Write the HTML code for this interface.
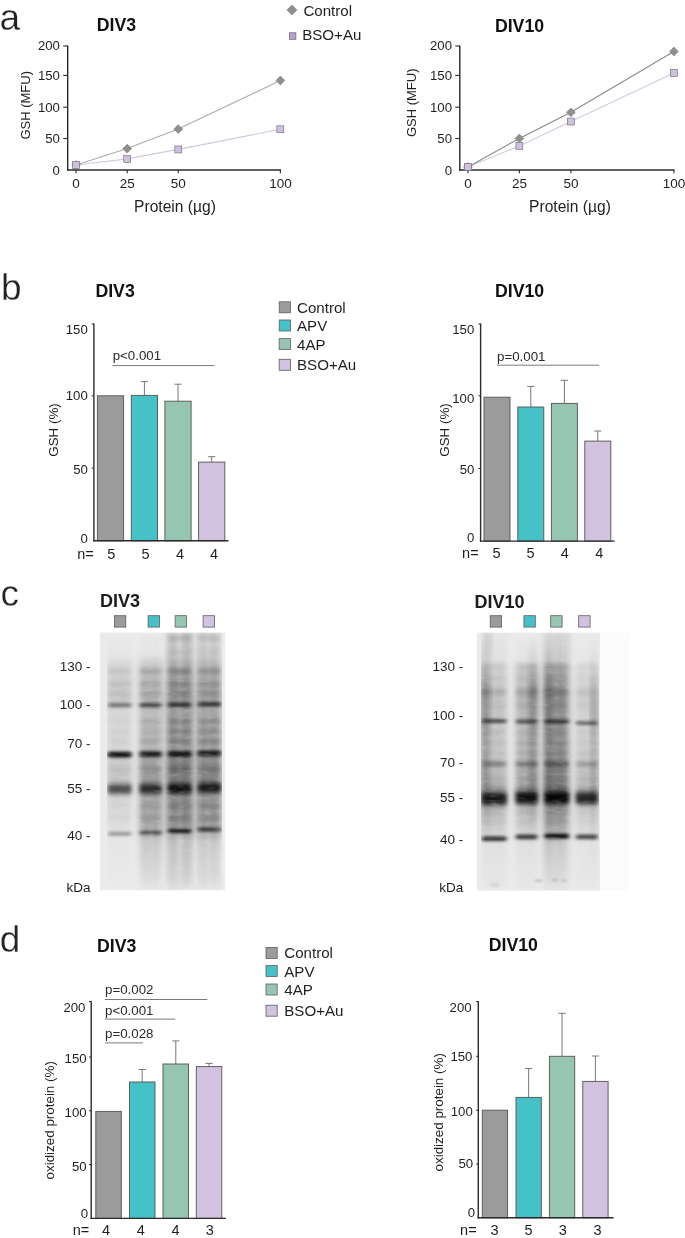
<!DOCTYPE html>
<html lang="en"><head><meta charset="utf-8"><title>Figure</title>
<style>
html,body{margin:0;padding:0;background:#fff;}
body{width:685px;height:1238px;overflow:hidden;}
svg{display:block;}
text{font-family:"Liberation Sans",sans-serif;}
svg{will-change:transform;}
</style></head><body>
<svg width="685" height="1238" viewBox="0 0 685 1238" font-family='"Liberation Sans", sans-serif'>
<defs>
<filter id="blurH" x="-40%" y="-5%" width="180%" height="110%"><feGaussianBlur stdDeviation="3.0 1.5"/></filter>
<filter id="bs" x="-30%" y="-300%" width="160%" height="700%"><feGaussianBlur stdDeviation="1.8 1.1"/></filter>
<filter id="bm" x="-30%" y="-300%" width="160%" height="700%"><feGaussianBlur stdDeviation="2.2 2.0"/></filter>
<filter id="bk" x="-30%" y="-300%" width="160%" height="700%"><feGaussianBlur stdDeviation="2.0 1.5"/></filter>
<filter id="bl" x="-30%" y="-300%" width="160%" height="700%"><feGaussianBlur stdDeviation="2.2 2.6"/></filter>
<filter id="noise" x="0" y="0" width="100%" height="100%" filterUnits="objectBoundingBox">
<feTurbulence type="fractalNoise" baseFrequency="0.09 0.30" numOctaves="2" seed="11" result="n"/>
<feColorMatrix in="n" type="matrix" values="0 0 0 0 0  0 0 0 0 0  0 0 0 0 0  0 0 0 0.55 0.74" result="na"/>
<feComposite in="SourceGraphic" in2="na" operator="in"/>
</filter>
<clipPath id="clip1"><rect x="99.9" y="632.5" width="125.1" height="257.7"/></clipPath>
<clipPath id="clip2"><rect x="476.9" y="632.6" width="123.2" height="258"/></clipPath>
</defs>
<rect width="685" height="1238" fill="#fff"/>
<text x="-0.5" y="30.2" font-size="37" fill="#222" stroke="#fff" stroke-width="0.3" paint-order="fill stroke" style="paint-order:fill stroke">a</text>
<text x="1.1" y="300.2" font-size="37" fill="#222" stroke="#fff" stroke-width="0.3" paint-order="fill stroke" style="paint-order:fill stroke">b</text>
<text x="0.4" y="606.1" font-size="37" fill="#222" stroke="#fff" stroke-width="0.3" paint-order="fill stroke" style="paint-order:fill stroke">c</text>
<text x="-0.3" y="952.4" font-size="37" fill="#222" stroke="#fff" stroke-width="0.3" paint-order="fill stroke" style="paint-order:fill stroke">d</text>
<line x1="67.7" y1="45.5" x2="67.7" y2="170.7" stroke="#2b2b2b" stroke-width="1.4" />
<line x1="67.0" y1="170.0" x2="281.0" y2="170.0" stroke="#2b2b2b" stroke-width="1.4" />
<text x="59.9" y="174.9" font-size="13.2" text-anchor="end" font-weight="normal" fill="#1f1f1f" >0</text>
<line x1="63.2" y1="138.5" x2="67.7" y2="138.5" stroke="#2b2b2b" stroke-width="1.1" />
<text x="59.9" y="143.4" font-size="13.2" text-anchor="end" font-weight="normal" fill="#1f1f1f" >50</text>
<line x1="63.2" y1="107.2" x2="67.7" y2="107.2" stroke="#2b2b2b" stroke-width="1.1" />
<text x="59.9" y="112.1" font-size="13.2" text-anchor="end" font-weight="normal" fill="#1f1f1f" >100</text>
<line x1="63.2" y1="75.4" x2="67.7" y2="75.4" stroke="#2b2b2b" stroke-width="1.1" />
<text x="59.9" y="80.3" font-size="13.2" text-anchor="end" font-weight="normal" fill="#1f1f1f" >150</text>
<line x1="63.2" y1="46.0" x2="67.7" y2="46.0" stroke="#2b2b2b" stroke-width="1.1" />
<text x="59.9" y="50.4" font-size="13.2" text-anchor="end" font-weight="normal" fill="#1f1f1f" >200</text>
<line x1="76.1" y1="170.0" x2="76.1" y2="173.2" stroke="#2b2b2b" stroke-width="1.1" />
<text x="76.1" y="188.1" font-size="13.5" text-anchor="middle" font-weight="normal" fill="#1f1f1f" >0</text>
<line x1="127.2" y1="170.0" x2="127.2" y2="173.2" stroke="#2b2b2b" stroke-width="1.1" />
<text x="127.2" y="188.1" font-size="13.5" text-anchor="middle" font-weight="normal" fill="#1f1f1f" >25</text>
<line x1="178.2" y1="170.0" x2="178.2" y2="173.2" stroke="#2b2b2b" stroke-width="1.1" />
<text x="178.2" y="188.1" font-size="13.5" text-anchor="middle" font-weight="normal" fill="#1f1f1f" >50</text>
<line x1="280.4" y1="170.0" x2="280.4" y2="173.2" stroke="#2b2b2b" stroke-width="1.1" />
<text x="280.4" y="188.1" font-size="13.5" text-anchor="middle" font-weight="normal" fill="#1f1f1f" >100</text>
<text transform="translate(30.0,105.3) rotate(-90)" font-size="13" text-anchor="middle" fill="#1f1f1f">GSH (MFU)</text>
<text x="175.0" y="212.4" font-size="15.6" text-anchor="middle" font-weight="normal" fill="#1f1f1f" >Protein (µg)</text>
<text x="96.8" y="31.1" font-size="17.7" text-anchor="start" font-weight="bold" fill="#111" >DIV3</text>
<polyline points="76.1,165.0 127.2,158.9 178.2,149.4 280.4,129.3" fill="none" stroke="#d3c8dc" stroke-width="1.1"/>
<polyline points="76.1,165.0 127.2,148.6 178.2,129.1 280.4,80.5" fill="none" stroke="#ababab" stroke-width="1.1"/>
<polygon points="76.1,160.6 80.5,165.0 76.1,169.4 71.7,165.0" fill="#8f8f8f" stroke="#7a7a7a" stroke-width="0.6"/>
<polygon points="127.2,144.2 131.6,148.6 127.2,153.0 122.8,148.6" fill="#8f8f8f" stroke="#7a7a7a" stroke-width="0.6"/>
<polygon points="178.2,124.7 182.7,129.1 178.2,133.5 173.8,129.1" fill="#8f8f8f" stroke="#7a7a7a" stroke-width="0.6"/>
<polygon points="280.4,76.1 284.8,80.5 280.4,84.9 276.0,80.5" fill="#8f8f8f" stroke="#7a7a7a" stroke-width="0.6"/>
<rect x="72.6" y="161.6" width="6.9" height="6.9" fill="#cfc0dc" stroke="#7d7188" stroke-width="0.7"/>
<rect x="123.7" y="155.5" width="6.9" height="6.9" fill="#cfc0dc" stroke="#7d7188" stroke-width="0.7"/>
<rect x="174.8" y="146.0" width="6.9" height="6.9" fill="#cfc0dc" stroke="#7d7188" stroke-width="0.7"/>
<rect x="276.9" y="125.8" width="6.9" height="6.9" fill="#cfc0dc" stroke="#7d7188" stroke-width="0.7"/>
<line x1="459.8" y1="45.5" x2="459.8" y2="170.7" stroke="#2b2b2b" stroke-width="1.4" />
<line x1="459.1" y1="170.0" x2="674.5" y2="170.0" stroke="#2b2b2b" stroke-width="1.4" />
<text x="452.0" y="174.9" font-size="13.2" text-anchor="end" font-weight="normal" fill="#1f1f1f" >0</text>
<line x1="455.3" y1="138.5" x2="459.8" y2="138.5" stroke="#2b2b2b" stroke-width="1.1" />
<text x="452.0" y="143.4" font-size="13.2" text-anchor="end" font-weight="normal" fill="#1f1f1f" >50</text>
<line x1="455.3" y1="107.2" x2="459.8" y2="107.2" stroke="#2b2b2b" stroke-width="1.1" />
<text x="452.0" y="112.1" font-size="13.2" text-anchor="end" font-weight="normal" fill="#1f1f1f" >100</text>
<line x1="455.3" y1="75.4" x2="459.8" y2="75.4" stroke="#2b2b2b" stroke-width="1.1" />
<text x="452.0" y="80.3" font-size="13.2" text-anchor="end" font-weight="normal" fill="#1f1f1f" >150</text>
<line x1="455.3" y1="46.0" x2="459.8" y2="46.0" stroke="#2b2b2b" stroke-width="1.1" />
<text x="452.0" y="50.4" font-size="13.2" text-anchor="end" font-weight="normal" fill="#1f1f1f" >200</text>
<line x1="467.9" y1="170.0" x2="467.9" y2="173.2" stroke="#2b2b2b" stroke-width="1.1" />
<text x="467.9" y="188.1" font-size="13.5" text-anchor="middle" font-weight="normal" fill="#1f1f1f" >0</text>
<line x1="519.4" y1="170.0" x2="519.4" y2="173.2" stroke="#2b2b2b" stroke-width="1.1" />
<text x="519.4" y="188.1" font-size="13.5" text-anchor="middle" font-weight="normal" fill="#1f1f1f" >25</text>
<line x1="570.9" y1="170.0" x2="570.9" y2="173.2" stroke="#2b2b2b" stroke-width="1.1" />
<text x="570.9" y="188.1" font-size="13.5" text-anchor="middle" font-weight="normal" fill="#1f1f1f" >50</text>
<line x1="673.9" y1="170.0" x2="673.9" y2="173.2" stroke="#2b2b2b" stroke-width="1.1" />
<text x="673.9" y="188.1" font-size="13.5" text-anchor="middle" font-weight="normal" fill="#1f1f1f" >100</text>
<text transform="translate(415.8,102.8) rotate(-90)" font-size="13" text-anchor="middle" fill="#1f1f1f">GSH (MFU)</text>
<text x="570.0" y="212.4" font-size="15.6" text-anchor="middle" font-weight="normal" fill="#1f1f1f" >Protein (µg)</text>
<text x="494.9" y="32.2" font-size="17.7" text-anchor="start" font-weight="bold" fill="#111" >DIV10</text>
<polyline points="467.9,166.9 519.4,145.9 570.9,121.6 673.9,72.9" fill="none" stroke="#d3c8dc" stroke-width="1.1"/>
<polyline points="467.9,166.9 519.4,138.4 570.9,112.3 673.9,51.5" fill="none" stroke="#8a8a8a" stroke-width="1.1"/>
<polygon points="467.9,162.5 472.3,166.9 467.9,171.3 463.5,166.9" fill="#8f8f8f" stroke="#7a7a7a" stroke-width="0.6"/>
<polygon points="519.4,134.0 523.8,138.4 519.4,142.8 515.0,138.4" fill="#8f8f8f" stroke="#7a7a7a" stroke-width="0.6"/>
<polygon points="570.9,107.9 575.3,112.3 570.9,116.7 566.5,112.3" fill="#8f8f8f" stroke="#7a7a7a" stroke-width="0.6"/>
<polygon points="673.9,47.1 678.3,51.5 673.9,55.9 669.5,51.5" fill="#8f8f8f" stroke="#7a7a7a" stroke-width="0.6"/>
<rect x="464.4" y="163.4" width="6.9" height="6.9" fill="#cfc0dc" stroke="#7d7188" stroke-width="0.7"/>
<rect x="515.9" y="142.4" width="6.9" height="6.9" fill="#cfc0dc" stroke="#7d7188" stroke-width="0.7"/>
<rect x="567.4" y="118.1" width="6.9" height="6.9" fill="#cfc0dc" stroke="#7d7188" stroke-width="0.7"/>
<rect x="670.4" y="69.5" width="6.9" height="6.9" fill="#cfc0dc" stroke="#7d7188" stroke-width="0.7"/>
<polygon points="291.9,5.0 296.9,10.0 291.9,15.0 286.9,10.0" fill="#8f8f8f" stroke="#7a7a7a" stroke-width="0.6"/>
<text x="303.4" y="15.5" font-size="15.1" text-anchor="start" font-weight="normal" fill="#1f1f1f" >Control</text>
<rect x="289.4" y="32.8" width="6.5" height="6.5" fill="#bba3cd" stroke="#6d5f7a" stroke-width="0.7"/>
<text x="302.2" y="40.2" font-size="15.1" text-anchor="start" font-weight="normal" fill="#1f1f1f" >BSO+Au</text>
<rect x="97.4" y="395.8" width="26.2" height="145.0" fill="#9b9b9b" stroke="#595959" stroke-width="0.95"/>
<line x1="144.4" y1="395.4" x2="144.4" y2="381.6" stroke="#6a6a6a" stroke-width="0.9" />
<line x1="140.8" y1="381.6" x2="148.0" y2="381.6" stroke="#6a6a6a" stroke-width="0.9" />
<rect x="131.3" y="395.4" width="26.2" height="145.4" fill="#45c1c8" stroke="#595959" stroke-width="0.95"/>
<line x1="178.0" y1="401.2" x2="178.0" y2="384.2" stroke="#6a6a6a" stroke-width="0.9" />
<line x1="174.4" y1="384.2" x2="181.6" y2="384.2" stroke="#6a6a6a" stroke-width="0.9" />
<rect x="164.9" y="401.2" width="26.2" height="139.6" fill="#96c6b1" stroke="#595959" stroke-width="0.95"/>
<line x1="211.7" y1="462.1" x2="211.7" y2="456.7" stroke="#6a6a6a" stroke-width="0.9" />
<line x1="208.1" y1="456.7" x2="215.3" y2="456.7" stroke="#6a6a6a" stroke-width="0.9" />
<rect x="198.6" y="462.1" width="26.2" height="78.7" fill="#d2c2df" stroke="#595959" stroke-width="0.95"/>
<line x1="93.9" y1="323.5" x2="93.9" y2="541.5" stroke="#2b2b2b" stroke-width="1.4" />
<line x1="93.2" y1="540.8" x2="228.5" y2="540.8" stroke="#2b2b2b" stroke-width="1.4" />
<line x1="91.7" y1="324.0" x2="93.9" y2="324.0" stroke="#2b2b2b" stroke-width="1.0" />
<line x1="91.7" y1="395.8" x2="93.9" y2="395.8" stroke="#2b2b2b" stroke-width="1.0" />
<line x1="91.7" y1="468.2" x2="93.9" y2="468.2" stroke="#2b2b2b" stroke-width="1.0" />
<text x="87.8" y="334.4" font-size="13.2" text-anchor="end" font-weight="normal" fill="#1f1f1f" >150</text>
<text x="87.8" y="400.2" font-size="13.2" text-anchor="end" font-weight="normal" fill="#1f1f1f" >100</text>
<text x="87.8" y="474.1" font-size="13.2" text-anchor="end" font-weight="normal" fill="#1f1f1f" >50</text>
<text x="87.8" y="543.2" font-size="13.2" text-anchor="end" font-weight="normal" fill="#1f1f1f" >0</text>
<text transform="translate(58.0,430.0) rotate(-90)" font-size="13.4" text-anchor="middle" fill="#1f1f1f">GSH (%)</text>
<text x="95.4" y="296.8" font-size="17.7" text-anchor="start" font-weight="bold" fill="#111" >DIV3</text>
<text x="77.2" y="558.5" font-size="14.5" text-anchor="start" font-weight="normal" fill="#1f1f1f" >n=</text>
<text x="111.2" y="558.5" font-size="14.5" text-anchor="middle" font-weight="normal" fill="#1f1f1f" >5</text>
<text x="145.6" y="558.5" font-size="14.5" text-anchor="middle" font-weight="normal" fill="#1f1f1f" >5</text>
<text x="180.0" y="558.5" font-size="14.5" text-anchor="middle" font-weight="normal" fill="#1f1f1f" >4</text>
<text x="214.0" y="558.5" font-size="14.5" text-anchor="middle" font-weight="normal" fill="#1f1f1f" >4</text>
<line x1="112.5" y1="365.6" x2="214.6" y2="365.6" stroke="#7a7a7a" stroke-width="1.0" />
<text x="112.7" y="360.4" font-size="13.3" text-anchor="start" font-weight="normal" fill="#2a2a2a" >p&lt;0.001</text>
<rect x="279.2" y="301.8" width="11.2" height="11.0" fill="#9b9b9b" stroke="#5e5e5e" stroke-width="0.8"/>
<text x="297.0" y="312.6" font-size="15.1" text-anchor="start" font-weight="normal" fill="#1f1f1f" >Control</text>
<rect x="279.2" y="320.0" width="11.2" height="11.0" fill="#45c1c8" stroke="#5e5e5e" stroke-width="0.8"/>
<text x="297.0" y="330.9" font-size="15.1" text-anchor="start" font-weight="normal" fill="#1f1f1f" >APV</text>
<rect x="279.2" y="338.6" width="11.2" height="11.0" fill="#96c6b1" stroke="#5e5e5e" stroke-width="0.8"/>
<text x="297.0" y="349.6" font-size="15.1" text-anchor="start" font-weight="normal" fill="#1f1f1f" >4AP</text>
<rect x="279.2" y="359.3" width="11.2" height="11.0" fill="#d2c2df" stroke="#5e5e5e" stroke-width="0.8"/>
<text x="297.0" y="370.0" font-size="15.1" text-anchor="start" font-weight="normal" fill="#1f1f1f" >BSO+Au</text>
<rect x="484.0" y="397.2" width="26.0" height="143.9" fill="#9b9b9b" stroke="#595959" stroke-width="0.95"/>
<line x1="530.8" y1="407.0" x2="530.8" y2="386.4" stroke="#6a6a6a" stroke-width="0.9" />
<line x1="527.2" y1="386.4" x2="534.4" y2="386.4" stroke="#6a6a6a" stroke-width="0.9" />
<rect x="517.8" y="407.0" width="26.0" height="134.1" fill="#45c1c8" stroke="#595959" stroke-width="0.95"/>
<line x1="564.4" y1="403.4" x2="564.4" y2="380.3" stroke="#6a6a6a" stroke-width="0.9" />
<line x1="560.8" y1="380.3" x2="568.0" y2="380.3" stroke="#6a6a6a" stroke-width="0.9" />
<rect x="551.4" y="403.4" width="26.0" height="137.7" fill="#96c6b1" stroke="#595959" stroke-width="0.95"/>
<line x1="597.8" y1="441.1" x2="597.8" y2="431.0" stroke="#6a6a6a" stroke-width="0.9" />
<line x1="594.2" y1="431.0" x2="601.4" y2="431.0" stroke="#6a6a6a" stroke-width="0.9" />
<rect x="584.8" y="441.1" width="26.0" height="100.0" fill="#d2c2df" stroke="#595959" stroke-width="0.95"/>
<line x1="480.6" y1="323.5" x2="480.6" y2="541.8" stroke="#2b2b2b" stroke-width="1.4" />
<line x1="479.9" y1="541.1" x2="614.6" y2="541.1" stroke="#2b2b2b" stroke-width="1.4" />
<line x1="478.4" y1="324.0" x2="480.6" y2="324.0" stroke="#2b2b2b" stroke-width="1.0" />
<line x1="478.4" y1="395.8" x2="480.6" y2="395.8" stroke="#2b2b2b" stroke-width="1.0" />
<line x1="478.4" y1="468.5" x2="480.6" y2="468.5" stroke="#2b2b2b" stroke-width="1.0" />
<text x="474.3" y="334.4" font-size="13.2" text-anchor="end" font-weight="normal" fill="#1f1f1f" >150</text>
<text x="474.3" y="403.2" font-size="13.2" text-anchor="end" font-weight="normal" fill="#1f1f1f" >100</text>
<text x="474.3" y="474.4" font-size="13.2" text-anchor="end" font-weight="normal" fill="#1f1f1f" >50</text>
<text x="474.3" y="542.4" font-size="13.2" text-anchor="end" font-weight="normal" fill="#1f1f1f" >0</text>
<text transform="translate(449.2,430.0) rotate(-90)" font-size="13.4" text-anchor="middle" fill="#1f1f1f">GSH (%)</text>
<text x="495.0" y="296.6" font-size="17.7" text-anchor="start" font-weight="bold" fill="#111" >DIV10</text>
<text x="462.1" y="557.8" font-size="14.5" text-anchor="start" font-weight="normal" fill="#1f1f1f" >n=</text>
<text x="496.5" y="557.8" font-size="14.5" text-anchor="middle" font-weight="normal" fill="#1f1f1f" >5</text>
<text x="530.5" y="557.8" font-size="14.5" text-anchor="middle" font-weight="normal" fill="#1f1f1f" >5</text>
<text x="564.9" y="557.8" font-size="14.5" text-anchor="middle" font-weight="normal" fill="#1f1f1f" >4</text>
<text x="599.2" y="557.8" font-size="14.5" text-anchor="middle" font-weight="normal" fill="#1f1f1f" >4</text>
<line x1="496.8" y1="365.2" x2="599.2" y2="365.2" stroke="#7a7a7a" stroke-width="1.0" />
<text x="497.0" y="360.7" font-size="13.3" text-anchor="start" font-weight="normal" fill="#2a2a2a" >p=0.001</text>
<rect x="95.8" y="1111.4" width="25.5" height="107.0" fill="#9b9b9b" stroke="#595959" stroke-width="0.95"/>
<line x1="142.2" y1="1082.0" x2="142.2" y2="1069.5" stroke="#6a6a6a" stroke-width="0.9" />
<line x1="138.7" y1="1069.5" x2="145.8" y2="1069.5" stroke="#6a6a6a" stroke-width="0.9" />
<rect x="129.5" y="1082.0" width="25.5" height="136.4" fill="#45c1c8" stroke="#595959" stroke-width="0.95"/>
<line x1="175.8" y1="1064.0" x2="175.8" y2="1040.9" stroke="#6a6a6a" stroke-width="0.9" />
<line x1="172.2" y1="1040.9" x2="179.3" y2="1040.9" stroke="#6a6a6a" stroke-width="0.9" />
<rect x="163.0" y="1064.0" width="25.5" height="154.4" fill="#96c6b1" stroke="#595959" stroke-width="0.95"/>
<line x1="209.1" y1="1066.6" x2="209.1" y2="1063.4" stroke="#6a6a6a" stroke-width="0.9" />
<line x1="205.5" y1="1063.4" x2="212.7" y2="1063.4" stroke="#6a6a6a" stroke-width="0.9" />
<rect x="196.3" y="1066.6" width="25.5" height="151.8" fill="#d2c2df" stroke="#595959" stroke-width="0.95"/>
<line x1="91.2" y1="1001.1" x2="91.2" y2="1219.1" stroke="#2b2b2b" stroke-width="1.4" />
<line x1="90.5" y1="1218.4" x2="225.9" y2="1218.4" stroke="#2b2b2b" stroke-width="1.4" />
<line x1="89.0" y1="1001.6" x2="91.2" y2="1001.6" stroke="#2b2b2b" stroke-width="1.0" />
<line x1="89.0" y1="1057.0" x2="91.2" y2="1057.0" stroke="#2b2b2b" stroke-width="1.0" />
<line x1="89.0" y1="1110.8" x2="91.2" y2="1110.8" stroke="#2b2b2b" stroke-width="1.0" />
<line x1="89.0" y1="1164.6" x2="91.2" y2="1164.6" stroke="#2b2b2b" stroke-width="1.0" />
<text x="85.4" y="1011.6" font-size="13.2" text-anchor="end" font-weight="normal" fill="#1f1f1f" >200</text>
<text x="86.6" y="1062.8" font-size="13.2" text-anchor="end" font-weight="normal" fill="#1f1f1f" >150</text>
<text x="86.6" y="1117.2" font-size="13.2" text-anchor="end" font-weight="normal" fill="#1f1f1f" >100</text>
<text x="86.6" y="1171.2" font-size="13.2" text-anchor="end" font-weight="normal" fill="#1f1f1f" >50</text>
<text x="88.0" y="1218.3" font-size="13.2" text-anchor="end" font-weight="normal" fill="#1f1f1f" >0</text>
<text transform="translate(54.3,1120.3) rotate(-90)" font-size="13.4" text-anchor="middle" fill="#1f1f1f">oxidized protein (%)</text>
<text x="97.1" y="952.0" font-size="17.7" text-anchor="start" font-weight="bold" fill="#111" >DIV3</text>
<text x="72.7" y="1235.4" font-size="14.5" text-anchor="start" font-weight="normal" fill="#1f1f1f" >n=</text>
<text x="106.1" y="1235.4" font-size="14.5" text-anchor="middle" font-weight="normal" fill="#1f1f1f" >4</text>
<text x="140.8" y="1235.4" font-size="14.5" text-anchor="middle" font-weight="normal" fill="#1f1f1f" >4</text>
<text x="175.5" y="1235.4" font-size="14.5" text-anchor="middle" font-weight="normal" fill="#1f1f1f" >4</text>
<text x="209.8" y="1235.4" font-size="14.5" text-anchor="middle" font-weight="normal" fill="#1f1f1f" >3</text>
<line x1="104.8" y1="999.5" x2="207.3" y2="999.5" stroke="#7a7a7a" stroke-width="1.0" />
<text x="105.0" y="994.0" font-size="13.3" text-anchor="start" font-weight="normal" fill="#2a2a2a" >p=0.002</text>
<line x1="104.8" y1="1019.1" x2="175.2" y2="1019.1" stroke="#7a7a7a" stroke-width="1.0" />
<text x="105.0" y="1014.6" font-size="13.3" text-anchor="start" font-weight="normal" fill="#2a2a2a" >p&lt;0.001</text>
<line x1="104.8" y1="1042.9" x2="143.0" y2="1042.9" stroke="#7a7a7a" stroke-width="1.0" />
<text x="105.0" y="1038.0" font-size="13.3" text-anchor="start" font-weight="normal" fill="#2a2a2a" >p=0.028</text>
<rect x="266.0" y="947.4" width="11.2" height="11.0" fill="#9b9b9b" stroke="#5e5e5e" stroke-width="0.8"/>
<text x="284.3" y="957.9" font-size="15.1" text-anchor="start" font-weight="normal" fill="#1f1f1f" >Control</text>
<rect x="266.0" y="965.6" width="11.2" height="11.0" fill="#45c1c8" stroke="#5e5e5e" stroke-width="0.8"/>
<text x="284.3" y="976.6" font-size="15.1" text-anchor="start" font-weight="normal" fill="#1f1f1f" >APV</text>
<rect x="266.0" y="984.0" width="11.2" height="11.0" fill="#96c6b1" stroke="#5e5e5e" stroke-width="0.8"/>
<text x="284.3" y="995.1" font-size="15.1" text-anchor="start" font-weight="normal" fill="#1f1f1f" >4AP</text>
<rect x="266.0" y="1005.2" width="11.2" height="11.0" fill="#d2c2df" stroke="#5e5e5e" stroke-width="0.8"/>
<text x="284.3" y="1015.6" font-size="15.1" text-anchor="start" font-weight="normal" fill="#1f1f1f" >BSO+Au</text>
<rect x="482.3" y="1110.2" width="25.3" height="107.6" fill="#9b9b9b" stroke="#595959" stroke-width="0.95"/>
<line x1="528.6" y1="1097.4" x2="528.6" y2="1068.5" stroke="#6a6a6a" stroke-width="0.9" />
<line x1="525.0" y1="1068.5" x2="532.2" y2="1068.5" stroke="#6a6a6a" stroke-width="0.9" />
<rect x="516.0" y="1097.4" width="25.3" height="120.4" fill="#45c1c8" stroke="#595959" stroke-width="0.95"/>
<line x1="562.0" y1="1056.3" x2="562.0" y2="1013.3" stroke="#6a6a6a" stroke-width="0.9" />
<line x1="558.4" y1="1013.3" x2="565.6" y2="1013.3" stroke="#6a6a6a" stroke-width="0.9" />
<rect x="549.4" y="1056.3" width="25.3" height="161.5" fill="#96c6b1" stroke="#595959" stroke-width="0.95"/>
<line x1="595.4" y1="1081.4" x2="595.4" y2="1056.0" stroke="#6a6a6a" stroke-width="0.9" />
<line x1="591.8" y1="1056.0" x2="599.0" y2="1056.0" stroke="#6a6a6a" stroke-width="0.9" />
<rect x="582.8" y="1081.4" width="25.3" height="136.4" fill="#d2c2df" stroke="#595959" stroke-width="0.95"/>
<line x1="478.3" y1="1001.1" x2="478.3" y2="1218.5" stroke="#2b2b2b" stroke-width="1.4" />
<line x1="477.6" y1="1217.8" x2="613.6" y2="1217.8" stroke="#2b2b2b" stroke-width="1.4" />
<line x1="476.1" y1="1001.6" x2="478.3" y2="1001.6" stroke="#2b2b2b" stroke-width="1.0" />
<line x1="476.1" y1="1056.3" x2="478.3" y2="1056.3" stroke="#2b2b2b" stroke-width="1.0" />
<line x1="476.1" y1="1110.2" x2="478.3" y2="1110.2" stroke="#2b2b2b" stroke-width="1.0" />
<line x1="476.1" y1="1164.0" x2="478.3" y2="1164.0" stroke="#2b2b2b" stroke-width="1.0" />
<text x="471.6" y="1012.0" font-size="13.2" text-anchor="end" font-weight="normal" fill="#1f1f1f" >200</text>
<text x="472.4" y="1061.0" font-size="13.2" text-anchor="end" font-weight="normal" fill="#1f1f1f" >150</text>
<text x="472.8" y="1115.5" font-size="13.2" text-anchor="end" font-weight="normal" fill="#1f1f1f" >100</text>
<text x="473.2" y="1167.8" font-size="13.2" text-anchor="end" font-weight="normal" fill="#1f1f1f" >50</text>
<text x="475.0" y="1217.3" font-size="13.2" text-anchor="end" font-weight="normal" fill="#1f1f1f" >0</text>
<text transform="translate(442.6,1112.3) rotate(-90)" font-size="13.4" text-anchor="middle" fill="#1f1f1f">oxidized protein (%)</text>
<text x="488.7" y="951.3" font-size="17.7" text-anchor="start" font-weight="bold" fill="#111" >DIV10</text>
<text x="460.1" y="1234.7" font-size="14.5" text-anchor="start" font-weight="normal" fill="#1f1f1f" >n=</text>
<text x="494.5" y="1234.7" font-size="14.5" text-anchor="middle" font-weight="normal" fill="#1f1f1f" >3</text>
<text x="528.5" y="1234.7" font-size="14.5" text-anchor="middle" font-weight="normal" fill="#1f1f1f" >5</text>
<text x="562.9" y="1234.7" font-size="14.5" text-anchor="middle" font-weight="normal" fill="#1f1f1f" >3</text>
<text x="597.6" y="1234.7" font-size="14.5" text-anchor="middle" font-weight="normal" fill="#1f1f1f" >3</text>
<text x="100.1" y="607.1" font-size="18" text-anchor="start" font-weight="bold" fill="#1c1c1c" >DIV3</text>
<rect x="114.4" y="615.7" width="11.4" height="11.4" fill="#9b9b9b" stroke="#5e5e5e" stroke-width="0.8"/>
<rect x="148.1" y="615.7" width="11.4" height="11.4" fill="#45c1c8" stroke="#5e5e5e" stroke-width="0.8"/>
<rect x="175.1" y="615.7" width="11.4" height="11.4" fill="#96c6b1" stroke="#5e5e5e" stroke-width="0.8"/>
<rect x="203.1" y="615.7" width="11.4" height="11.4" fill="#d2c2df" stroke="#5e5e5e" stroke-width="0.8"/>
<text x="90.6" y="671.3" font-size="13.5" text-anchor="end" font-weight="normal" fill="#1f1f1f" >130 -</text>
<text x="90.6" y="709.3" font-size="13.5" text-anchor="end" font-weight="normal" fill="#1f1f1f" >100 -</text>
<text x="90.6" y="747.8" font-size="13.5" text-anchor="end" font-weight="normal" fill="#1f1f1f" >70 -</text>
<text x="90.6" y="793.1" font-size="13.5" text-anchor="end" font-weight="normal" fill="#1f1f1f" >55 -</text>
<text x="90.6" y="840.0" font-size="13.5" text-anchor="end" font-weight="normal" fill="#1f1f1f" >40 -</text>
<text x="90.6" y="891.5" font-size="13.5" text-anchor="end" font-weight="normal" fill="#1f1f1f" >kDa</text>
<text x="474.5" y="608.0" font-size="18" text-anchor="start" font-weight="bold" fill="#1c1c1c" >DIV10</text>
<rect x="490.2" y="615.7" width="11.4" height="11.4" fill="#9b9b9b" stroke="#5e5e5e" stroke-width="0.8"/>
<rect x="523.9" y="615.7" width="11.4" height="11.4" fill="#45c1c8" stroke="#5e5e5e" stroke-width="0.8"/>
<rect x="550.7" y="615.7" width="11.4" height="11.4" fill="#96c6b1" stroke="#5e5e5e" stroke-width="0.8"/>
<rect x="578.7" y="615.7" width="11.4" height="11.4" fill="#d2c2df" stroke="#5e5e5e" stroke-width="0.8"/>
<text x="463.3" y="671.3" font-size="13.5" text-anchor="end" font-weight="normal" fill="#1f1f1f" >130 -</text>
<text x="463.3" y="720.2" font-size="13.5" text-anchor="end" font-weight="normal" fill="#1f1f1f" >100 -</text>
<text x="463.3" y="766.8" font-size="13.5" text-anchor="end" font-weight="normal" fill="#1f1f1f" >70 -</text>
<text x="463.3" y="802.1" font-size="13.5" text-anchor="end" font-weight="normal" fill="#1f1f1f" >55 -</text>
<text x="463.3" y="843.8" font-size="13.5" text-anchor="end" font-weight="normal" fill="#1f1f1f" >40 -</text>
<text x="463.3" y="891.5" font-size="13.5" text-anchor="end" font-weight="normal" fill="#1f1f1f" >kDa</text>
<g>
<rect x="99.9" y="632.5" width="125.1" height="257.7" fill="#ebebeb"/>
<g clip-path="url(#clip1)">
<g filter="url(#noise)">
<linearGradient id="g1_0" x1="0" y1="0" x2="0" y2="1"><stop offset="-0.0019" stop-color="#000" stop-opacity="0.000"/><stop offset="0.0873" stop-color="#000" stop-opacity="0.020"/><stop offset="0.1378" stop-color="#000" stop-opacity="0.110"/><stop offset="0.2619" stop-color="#000" stop-opacity="0.160"/><stop offset="0.3007" stop-color="#000" stop-opacity="0.090"/><stop offset="0.4482" stop-color="#000" stop-opacity="0.090"/><stop offset="0.4948" stop-color="#000" stop-opacity="0.140"/><stop offset="0.5801" stop-color="#000" stop-opacity="0.170"/><stop offset="0.6422" stop-color="#000" stop-opacity="0.100"/><stop offset="0.7509" stop-color="#000" stop-opacity="0.060"/><stop offset="0.8130" stop-color="#000" stop-opacity="0.020"/><stop offset="0.9992" stop-color="#000" stop-opacity="0.000"/></linearGradient>
<rect x="107.1" y="632.5" width="25.0" height="257.7" fill="url(#g1_0)" filter="url(#blurH)"/>
<linearGradient id="g1_1" x1="0" y1="0" x2="0" y2="1"><stop offset="-0.0019" stop-color="#000" stop-opacity="0.000"/><stop offset="0.0873" stop-color="#000" stop-opacity="0.030"/><stop offset="0.1378" stop-color="#000" stop-opacity="0.180"/><stop offset="0.2619" stop-color="#000" stop-opacity="0.250"/><stop offset="0.3085" stop-color="#000" stop-opacity="0.190"/><stop offset="0.4482" stop-color="#000" stop-opacity="0.210"/><stop offset="0.4948" stop-color="#000" stop-opacity="0.300"/><stop offset="0.5801" stop-color="#000" stop-opacity="0.340"/><stop offset="0.6422" stop-color="#000" stop-opacity="0.280"/><stop offset="0.7509" stop-color="#000" stop-opacity="0.260"/><stop offset="0.8130" stop-color="#000" stop-opacity="0.120"/><stop offset="0.9216" stop-color="#000" stop-opacity="0.060"/><stop offset="0.9992" stop-color="#000" stop-opacity="0.020"/></linearGradient>
<rect x="138.9" y="632.5" width="23.5" height="257.7" fill="url(#g1_1)" filter="url(#blurH)"/>
<linearGradient id="g1_2" x1="0" y1="0" x2="0" y2="1"><stop offset="-0.0019" stop-color="#000" stop-opacity="0.100"/><stop offset="0.0873" stop-color="#000" stop-opacity="0.120"/><stop offset="0.1378" stop-color="#000" stop-opacity="0.270"/><stop offset="0.2619" stop-color="#000" stop-opacity="0.350"/><stop offset="0.3085" stop-color="#000" stop-opacity="0.290"/><stop offset="0.4482" stop-color="#000" stop-opacity="0.320"/><stop offset="0.4948" stop-color="#000" stop-opacity="0.420"/><stop offset="0.5801" stop-color="#000" stop-opacity="0.460"/><stop offset="0.6422" stop-color="#000" stop-opacity="0.380"/><stop offset="0.7509" stop-color="#000" stop-opacity="0.340"/><stop offset="0.8130" stop-color="#000" stop-opacity="0.130"/><stop offset="0.9216" stop-color="#000" stop-opacity="0.090"/><stop offset="0.9992" stop-color="#000" stop-opacity="0.040"/></linearGradient>
<rect x="167.4" y="632.5" width="24.5" height="257.7" fill="url(#g1_2)" filter="url(#blurH)"/>
<linearGradient id="g1_3" x1="0" y1="0" x2="0" y2="1"><stop offset="-0.0019" stop-color="#000" stop-opacity="0.090"/><stop offset="0.0873" stop-color="#000" stop-opacity="0.100"/><stop offset="0.1378" stop-color="#000" stop-opacity="0.230"/><stop offset="0.2619" stop-color="#000" stop-opacity="0.300"/><stop offset="0.3085" stop-color="#000" stop-opacity="0.260"/><stop offset="0.4482" stop-color="#000" stop-opacity="0.290"/><stop offset="0.4948" stop-color="#000" stop-opacity="0.380"/><stop offset="0.5801" stop-color="#000" stop-opacity="0.420"/><stop offset="0.6422" stop-color="#000" stop-opacity="0.340"/><stop offset="0.7509" stop-color="#000" stop-opacity="0.300"/><stop offset="0.8130" stop-color="#000" stop-opacity="0.110"/><stop offset="0.9216" stop-color="#000" stop-opacity="0.070"/><stop offset="0.9992" stop-color="#000" stop-opacity="0.030"/></linearGradient>
<rect x="197.1" y="632.5" width="24.5" height="257.7" fill="url(#g1_3)" filter="url(#blurH)"/>
<linearGradient id="s1_0" x1="0" y1="0" x2="0" y2="1"><stop offset="-0.0019" stop-color="#000" stop-opacity="0.100"/><stop offset="0.2619" stop-color="#000" stop-opacity="0.140"/><stop offset="0.7664" stop-color="#000" stop-opacity="0.140"/><stop offset="0.8246" stop-color="#000" stop-opacity="0.100"/><stop offset="0.9604" stop-color="#000" stop-opacity="0.060"/><stop offset="0.9992" stop-color="#000" stop-opacity="0.000"/></linearGradient>
<rect x="168.0" y="632.5" width="7.0" height="257.7" fill="url(#s1_0)" filter="url(#blurH)"/>
<linearGradient id="s1_1" x1="0" y1="0" x2="0" y2="1"><stop offset="-0.0019" stop-color="#000" stop-opacity="0.120"/><stop offset="0.2619" stop-color="#000" stop-opacity="0.140"/><stop offset="0.7664" stop-color="#000" stop-opacity="0.140"/><stop offset="0.8246" stop-color="#000" stop-opacity="0.100"/><stop offset="0.9604" stop-color="#000" stop-opacity="0.070"/><stop offset="0.9992" stop-color="#000" stop-opacity="0.000"/></linearGradient>
<rect x="184.0" y="632.5" width="7.0" height="257.7" fill="url(#s1_1)" filter="url(#blurH)"/>
<linearGradient id="s1_2" x1="0" y1="0" x2="0" y2="1"><stop offset="-0.0019" stop-color="#000" stop-opacity="0.080"/><stop offset="0.2619" stop-color="#000" stop-opacity="0.100"/><stop offset="0.7664" stop-color="#000" stop-opacity="0.100"/><stop offset="0.8246" stop-color="#000" stop-opacity="0.070"/><stop offset="0.9604" stop-color="#000" stop-opacity="0.040"/><stop offset="0.9992" stop-color="#000" stop-opacity="0.000"/></linearGradient>
<rect x="199.5" y="632.5" width="6.0" height="257.7" fill="url(#s1_2)" filter="url(#blurH)"/>
<linearGradient id="s1_3" x1="0" y1="0" x2="0" y2="1"><stop offset="-0.0019" stop-color="#000" stop-opacity="0.080"/><stop offset="0.2619" stop-color="#000" stop-opacity="0.100"/><stop offset="0.7664" stop-color="#000" stop-opacity="0.100"/><stop offset="0.8246" stop-color="#000" stop-opacity="0.060"/><stop offset="0.9604" stop-color="#000" stop-opacity="0.030"/><stop offset="0.9992" stop-color="#000" stop-opacity="0.000"/></linearGradient>
<rect x="211.0" y="632.5" width="6.0" height="257.7" fill="url(#s1_3)" filter="url(#blurH)"/>
<linearGradient id="s1_4" x1="0" y1="0" x2="0" y2="1"><stop offset="-0.0019" stop-color="#000" stop-opacity="0.040"/><stop offset="0.1261" stop-color="#000" stop-opacity="0.060"/><stop offset="0.2619" stop-color="#000" stop-opacity="0.140"/><stop offset="0.7664" stop-color="#000" stop-opacity="0.140"/><stop offset="0.8246" stop-color="#000" stop-opacity="0.040"/><stop offset="0.9992" stop-color="#000" stop-opacity="0.000"/></linearGradient>
<rect x="191.5" y="632.5" width="6.0" height="257.7" fill="url(#s1_4)" filter="url(#blurH)"/>
<linearGradient id="s1_5" x1="0" y1="0" x2="0" y2="1"><stop offset="-0.0019" stop-color="#000" stop-opacity="0.000"/><stop offset="0.1261" stop-color="#000" stop-opacity="0.020"/><stop offset="0.2619" stop-color="#000" stop-opacity="0.080"/><stop offset="0.7664" stop-color="#000" stop-opacity="0.080"/><stop offset="0.8246" stop-color="#000" stop-opacity="0.020"/><stop offset="0.9992" stop-color="#000" stop-opacity="0.000"/></linearGradient>
<rect x="162.5" y="632.5" width="5.0" height="257.7" fill="url(#s1_5)" filter="url(#blurH)"/>
<linearGradient id="s1_6" x1="0" y1="0" x2="0" y2="1"><stop offset="-0.0019" stop-color="#000" stop-opacity="0.000"/><stop offset="0.5724" stop-color="#000" stop-opacity="0.040"/><stop offset="0.7664" stop-color="#000" stop-opacity="0.080"/><stop offset="0.8246" stop-color="#000" stop-opacity="0.060"/><stop offset="0.9410" stop-color="#000" stop-opacity="0.040"/><stop offset="0.9992" stop-color="#000" stop-opacity="0.000"/></linearGradient>
<rect x="143.0" y="632.5" width="6.0" height="257.7" fill="url(#s1_6)" filter="url(#blurH)"/>
<linearGradient id="s1_7" x1="0" y1="0" x2="0" y2="1"><stop offset="-0.0019" stop-color="#000" stop-opacity="0.000"/><stop offset="0.5724" stop-color="#000" stop-opacity="0.040"/><stop offset="0.7664" stop-color="#000" stop-opacity="0.080"/><stop offset="0.8246" stop-color="#000" stop-opacity="0.060"/><stop offset="0.9410" stop-color="#000" stop-opacity="0.040"/><stop offset="0.9992" stop-color="#000" stop-opacity="0.000"/></linearGradient>
<rect x="153.0" y="632.5" width="6.0" height="257.7" fill="url(#s1_7)" filter="url(#blurH)"/>
<rect x="139.4" y="636.5" width="22.5" height="3.5" rx="1.8" fill="#000" opacity="0.024" filter="url(#bm)"/>
<rect x="167.9" y="636.5" width="23.5" height="3.5" rx="1.8" fill="#000" opacity="0.162" filter="url(#bm)"/>
<rect x="197.6" y="636.5" width="23.5" height="3.5" rx="1.8" fill="#000" opacity="0.121" filter="url(#bm)"/>
<rect x="167.9" y="650.2" width="23.5" height="3.5" rx="1.8" fill="#000" opacity="0.1" filter="url(#bl)"/>
<rect x="197.6" y="650.2" width="23.5" height="3.5" rx="1.8" fill="#000" opacity="0.08" filter="url(#bl)"/>
<rect x="107.6" y="669.3" width="24.0" height="4.0" rx="2.0" fill="#000" opacity="0.081" filter="url(#bm)"/>
<rect x="139.4" y="669.3" width="22.5" height="4.0" rx="2.0" fill="#000" opacity="0.178" filter="url(#bm)"/>
<rect x="167.9" y="669.3" width="23.5" height="4.0" rx="2.0" fill="#000" opacity="0.275" filter="url(#bm)"/>
<rect x="197.6" y="669.3" width="23.5" height="4.0" rx="2.0" fill="#000" opacity="0.227" filter="url(#bm)"/>
<rect x="107.6" y="682.0" width="24.0" height="4.0" rx="2.0" fill="#000" opacity="0.073" filter="url(#bm)"/>
<rect x="139.4" y="682.0" width="22.5" height="4.0" rx="2.0" fill="#000" opacity="0.146" filter="url(#bm)"/>
<rect x="167.9" y="682.0" width="23.5" height="4.0" rx="2.0" fill="#000" opacity="0.227" filter="url(#bm)"/>
<rect x="197.6" y="682.0" width="23.5" height="4.0" rx="2.0" fill="#000" opacity="0.194" filter="url(#bm)"/>
<rect x="107.6" y="691.5" width="24.0" height="4.0" rx="2.0" fill="#000" opacity="0.065" filter="url(#bm)"/>
<rect x="139.4" y="691.5" width="22.5" height="4.0" rx="2.0" fill="#000" opacity="0.13" filter="url(#bm)"/>
<rect x="167.9" y="691.5" width="23.5" height="4.0" rx="2.0" fill="#000" opacity="0.211" filter="url(#bm)"/>
<rect x="197.6" y="691.5" width="23.5" height="4.0" rx="2.0" fill="#000" opacity="0.178" filter="url(#bm)"/>
<rect x="107.6" y="702.9" width="24.0" height="4.4" rx="2.0" fill="#000" opacity="0.44" filter="url(#bk)"/>
<rect x="139.4" y="702.9" width="22.5" height="4.4" rx="2.0" fill="#000" opacity="0.62" filter="url(#bk)"/>
<rect x="167.9" y="702.6" width="23.5" height="4.4" rx="2.0" fill="#000" opacity="0.68" filter="url(#bk)"/>
<rect x="197.6" y="702.1" width="23.5" height="4.4" rx="2.0" fill="#000" opacity="0.68" filter="url(#bk)"/>
<rect x="107.6" y="719.6" width="24.0" height="4.0" rx="2.0" fill="#000" opacity="0.032" filter="url(#bm)"/>
<rect x="139.4" y="719.6" width="22.5" height="4.0" rx="2.0" fill="#000" opacity="0.113" filter="url(#bm)"/>
<rect x="167.9" y="719.6" width="23.5" height="4.0" rx="2.0" fill="#000" opacity="0.243" filter="url(#bm)"/>
<rect x="197.6" y="719.6" width="23.5" height="4.0" rx="2.0" fill="#000" opacity="0.211" filter="url(#bm)"/>
<rect x="107.6" y="729.4" width="24.0" height="4.0" rx="2.0" fill="#000" opacity="0.032" filter="url(#bm)"/>
<rect x="139.4" y="729.4" width="22.5" height="4.0" rx="2.0" fill="#000" opacity="0.113" filter="url(#bm)"/>
<rect x="167.9" y="729.4" width="23.5" height="4.0" rx="2.0" fill="#000" opacity="0.243" filter="url(#bm)"/>
<rect x="197.6" y="729.4" width="23.5" height="4.0" rx="2.0" fill="#000" opacity="0.211" filter="url(#bm)"/>
<rect x="107.6" y="739.3" width="24.0" height="4.0" rx="2.0" fill="#000" opacity="0.049" filter="url(#bm)"/>
<rect x="139.4" y="739.3" width="22.5" height="4.0" rx="2.0" fill="#000" opacity="0.146" filter="url(#bm)"/>
<rect x="167.9" y="739.3" width="23.5" height="4.0" rx="2.0" fill="#000" opacity="0.259" filter="url(#bm)"/>
<rect x="197.6" y="739.3" width="23.5" height="4.0" rx="2.0" fill="#000" opacity="0.227" filter="url(#bm)"/>
<rect x="107.6" y="751.7" width="24.0" height="5.8" rx="2.0" fill="#000" opacity="0.92" filter="url(#bk)"/>
<rect x="139.4" y="751.3" width="22.5" height="5.8" rx="2.0" fill="#000" opacity="0.84" filter="url(#bk)"/>
<rect x="167.9" y="751.1" width="23.5" height="5.8" rx="2.0" fill="#000" opacity="0.84" filter="url(#bk)"/>
<rect x="197.6" y="750.5" width="23.5" height="5.8" rx="2.0" fill="#000" opacity="0.84" filter="url(#bk)"/>
<rect x="107.6" y="766.5" width="24.0" height="5.0" rx="2.0" fill="#000" opacity="0.057" filter="url(#bm)"/>
<rect x="139.4" y="766.5" width="22.5" height="5.0" rx="2.0" fill="#000" opacity="0.13" filter="url(#bm)"/>
<rect x="167.9" y="766.5" width="23.5" height="5.0" rx="2.0" fill="#000" opacity="0.227" filter="url(#bm)"/>
<rect x="197.6" y="766.5" width="23.5" height="5.0" rx="2.0" fill="#000" opacity="0.194" filter="url(#bm)"/>
<rect x="107.6" y="784.2" width="24.0" height="9.5" rx="2.0" fill="#000" opacity="0.64" filter="url(#bl)"/>
<rect x="139.4" y="784.0" width="22.5" height="9.5" rx="2.0" fill="#000" opacity="0.76" filter="url(#bl)"/>
<rect x="167.9" y="783.8" width="23.5" height="9.5" rx="2.0" fill="#000" opacity="0.95" filter="url(#bl)"/>
<rect x="197.6" y="783.0" width="23.5" height="9.5" rx="2.0" fill="#000" opacity="0.84" filter="url(#bl)"/>
<rect x="107.6" y="803.8" width="24.0" height="4.5" rx="2.0" fill="#000" opacity="0.024" filter="url(#bm)"/>
<rect x="139.4" y="803.8" width="22.5" height="4.5" rx="2.0" fill="#000" opacity="0.097" filter="url(#bm)"/>
<rect x="167.9" y="803.8" width="23.5" height="4.5" rx="2.0" fill="#000" opacity="0.178" filter="url(#bm)"/>
<rect x="197.6" y="803.8" width="23.5" height="4.5" rx="2.0" fill="#000" opacity="0.162" filter="url(#bm)"/>
<rect x="107.6" y="815.8" width="24.0" height="4.5" rx="2.0" fill="#000" opacity="0.032" filter="url(#bm)"/>
<rect x="139.4" y="815.8" width="22.5" height="4.5" rx="2.0" fill="#000" opacity="0.113" filter="url(#bm)"/>
<rect x="167.9" y="815.8" width="23.5" height="4.5" rx="2.0" fill="#000" opacity="0.194" filter="url(#bm)"/>
<rect x="197.6" y="815.8" width="23.5" height="4.5" rx="2.0" fill="#000" opacity="0.162" filter="url(#bm)"/>
<rect x="107.6" y="831.8" width="24.0" height="4.0" rx="2.0" fill="#000" opacity="0.32" filter="url(#bk)"/>
<rect x="139.4" y="830.8" width="22.5" height="4.0" rx="2.0" fill="#000" opacity="0.58" filter="url(#bk)"/>
<rect x="167.9" y="829.0" width="23.5" height="4.0" rx="2.0" fill="#000" opacity="0.88" filter="url(#bk)"/>
<rect x="197.6" y="827.5" width="23.5" height="4.0" rx="2.0" fill="#000" opacity="0.72" filter="url(#bk)"/>
</g></g></g>
<g>
<rect x="600.1" y="632.6" width="29.0" height="258.0" fill="#fbfbfb"/>
<rect x="476.9" y="632.6" width="123.2" height="258.0" fill="#ebebeb"/>
<g clip-path="url(#clip2)">
<g filter="url(#noise)">
<linearGradient id="g2_0" x1="0" y1="0" x2="0" y2="1"><stop offset="-0.0023" stop-color="#000" stop-opacity="0.024"/><stop offset="0.1062" stop-color="#000" stop-opacity="0.047"/><stop offset="0.1372" stop-color="#000" stop-opacity="0.118"/><stop offset="0.2612" stop-color="#000" stop-opacity="0.177"/><stop offset="0.3310" stop-color="#000" stop-opacity="0.165"/><stop offset="0.4550" stop-color="#000" stop-opacity="0.153"/><stop offset="0.5326" stop-color="#000" stop-opacity="0.177"/><stop offset="0.5946" stop-color="#000" stop-opacity="0.260"/><stop offset="0.6178" stop-color="#000" stop-opacity="0.378"/><stop offset="0.6721" stop-color="#000" stop-opacity="0.236"/><stop offset="0.7651" stop-color="#000" stop-opacity="0.118"/><stop offset="0.8233" stop-color="#000" stop-opacity="0.047"/><stop offset="1.0016" stop-color="#000" stop-opacity="0.012"/></linearGradient>
<rect x="481.2" y="632.6" width="26.0" height="258.0" fill="url(#g2_0)" filter="url(#blurH)"/>
<linearGradient id="g2_1" x1="0" y1="0" x2="0" y2="1"><stop offset="-0.0023" stop-color="#000" stop-opacity="0.000"/><stop offset="0.1062" stop-color="#000" stop-opacity="0.035"/><stop offset="0.1372" stop-color="#000" stop-opacity="0.153"/><stop offset="0.2612" stop-color="#000" stop-opacity="0.236"/><stop offset="0.3310" stop-color="#000" stop-opacity="0.212"/><stop offset="0.4550" stop-color="#000" stop-opacity="0.212"/><stop offset="0.5326" stop-color="#000" stop-opacity="0.236"/><stop offset="0.5946" stop-color="#000" stop-opacity="0.307"/><stop offset="0.6178" stop-color="#000" stop-opacity="0.413"/><stop offset="0.6721" stop-color="#000" stop-opacity="0.236"/><stop offset="0.7651" stop-color="#000" stop-opacity="0.118"/><stop offset="0.8233" stop-color="#000" stop-opacity="0.047"/><stop offset="1.0016" stop-color="#000" stop-opacity="0.012"/></linearGradient>
<rect x="515.2" y="632.6" width="23.0" height="258.0" fill="url(#g2_1)" filter="url(#blurH)"/>
<linearGradient id="g2_2" x1="0" y1="0" x2="0" y2="1"><stop offset="-0.0023" stop-color="#000" stop-opacity="0.059"/><stop offset="0.1062" stop-color="#000" stop-opacity="0.106"/><stop offset="0.1372" stop-color="#000" stop-opacity="0.260"/><stop offset="0.2612" stop-color="#000" stop-opacity="0.354"/><stop offset="0.3310" stop-color="#000" stop-opacity="0.330"/><stop offset="0.4550" stop-color="#000" stop-opacity="0.330"/><stop offset="0.5326" stop-color="#000" stop-opacity="0.354"/><stop offset="0.5946" stop-color="#000" stop-opacity="0.425"/><stop offset="0.6178" stop-color="#000" stop-opacity="0.519"/><stop offset="0.6721" stop-color="#000" stop-opacity="0.378"/><stop offset="0.7651" stop-color="#000" stop-opacity="0.236"/><stop offset="0.8233" stop-color="#000" stop-opacity="0.106"/><stop offset="0.9395" stop-color="#000" stop-opacity="0.059"/><stop offset="1.0016" stop-color="#000" stop-opacity="0.024"/></linearGradient>
<rect x="544.0" y="632.6" width="25.5" height="258.0" fill="url(#g2_2)" filter="url(#blurH)"/>
<linearGradient id="g2_3" x1="0" y1="0" x2="0" y2="1"><stop offset="-0.0023" stop-color="#000" stop-opacity="0.000"/><stop offset="0.1062" stop-color="#000" stop-opacity="0.022"/><stop offset="0.1372" stop-color="#000" stop-opacity="0.077"/><stop offset="0.2612" stop-color="#000" stop-opacity="0.132"/><stop offset="0.3310" stop-color="#000" stop-opacity="0.110"/><stop offset="0.4550" stop-color="#000" stop-opacity="0.121"/><stop offset="0.5326" stop-color="#000" stop-opacity="0.154"/><stop offset="0.5946" stop-color="#000" stop-opacity="0.209"/><stop offset="0.6178" stop-color="#000" stop-opacity="0.297"/><stop offset="0.6721" stop-color="#000" stop-opacity="0.154"/><stop offset="0.7651" stop-color="#000" stop-opacity="0.077"/><stop offset="0.8233" stop-color="#000" stop-opacity="0.033"/><stop offset="1.0016" stop-color="#000" stop-opacity="0.011"/></linearGradient>
<rect x="575.3" y="632.6" width="23.0" height="258.0" fill="url(#g2_3)" filter="url(#blurH)"/>
<linearGradient id="s2_0" x1="0" y1="0" x2="0" y2="1"><stop offset="-0.0023" stop-color="#000" stop-opacity="0.040"/><stop offset="0.1062" stop-color="#000" stop-opacity="0.120"/><stop offset="0.1837" stop-color="#000" stop-opacity="0.260"/><stop offset="0.2302" stop-color="#000" stop-opacity="0.400"/><stop offset="0.2806" stop-color="#000" stop-opacity="0.280"/><stop offset="0.3426" stop-color="#000" stop-opacity="0.340"/><stop offset="0.4163" stop-color="#000" stop-opacity="0.240"/><stop offset="0.6101" stop-color="#000" stop-opacity="0.260"/><stop offset="0.6876" stop-color="#000" stop-opacity="0.120"/><stop offset="0.8039" stop-color="#000" stop-opacity="0.000"/><stop offset="1.0016" stop-color="#000" stop-opacity="0.000"/></linearGradient>
<rect x="481.0" y="632.6" width="8.0" height="258.0" fill="url(#s2_0)" filter="url(#blurH)"/>
<linearGradient id="s2_1" x1="0" y1="0" x2="0" y2="1"><stop offset="-0.0023" stop-color="#000" stop-opacity="0.100"/><stop offset="0.0674" stop-color="#000" stop-opacity="0.070"/><stop offset="0.1140" stop-color="#000" stop-opacity="0.000"/><stop offset="1.0016" stop-color="#000" stop-opacity="0.000"/></linearGradient>
<rect x="486.5" y="632.6" width="5.0" height="258.0" fill="url(#s2_1)" filter="url(#blurH)"/>
<linearGradient id="s2_2" x1="0" y1="0" x2="0" y2="1"><stop offset="-0.0023" stop-color="#000" stop-opacity="0.000"/><stop offset="0.1062" stop-color="#000" stop-opacity="0.080"/><stop offset="0.1837" stop-color="#000" stop-opacity="0.240"/><stop offset="0.2302" stop-color="#000" stop-opacity="0.380"/><stop offset="0.2806" stop-color="#000" stop-opacity="0.260"/><stop offset="0.3426" stop-color="#000" stop-opacity="0.300"/><stop offset="0.4163" stop-color="#000" stop-opacity="0.220"/><stop offset="0.6101" stop-color="#000" stop-opacity="0.240"/><stop offset="0.6876" stop-color="#000" stop-opacity="0.100"/><stop offset="0.8039" stop-color="#000" stop-opacity="0.000"/><stop offset="1.0016" stop-color="#000" stop-opacity="0.000"/></linearGradient>
<rect x="529.5" y="632.6" width="8.0" height="258.0" fill="url(#s2_2)" filter="url(#blurH)"/>
<linearGradient id="s2_3" x1="0" y1="0" x2="0" y2="1"><stop offset="-0.0023" stop-color="#000" stop-opacity="0.030"/><stop offset="0.1062" stop-color="#000" stop-opacity="0.120"/><stop offset="0.1837" stop-color="#000" stop-opacity="0.260"/><stop offset="0.2302" stop-color="#000" stop-opacity="0.380"/><stop offset="0.2806" stop-color="#000" stop-opacity="0.280"/><stop offset="0.3426" stop-color="#000" stop-opacity="0.300"/><stop offset="0.4163" stop-color="#000" stop-opacity="0.240"/><stop offset="0.6101" stop-color="#000" stop-opacity="0.260"/><stop offset="0.6876" stop-color="#000" stop-opacity="0.140"/><stop offset="0.8233" stop-color="#000" stop-opacity="0.090"/><stop offset="0.9395" stop-color="#000" stop-opacity="0.040"/><stop offset="1.0016" stop-color="#000" stop-opacity="0.000"/></linearGradient>
<rect x="544.0" y="632.6" width="8.0" height="258.0" fill="url(#s2_3)" filter="url(#blurH)"/>
<linearGradient id="s2_4" x1="0" y1="0" x2="0" y2="1"><stop offset="-0.0023" stop-color="#000" stop-opacity="0.060"/><stop offset="0.1062" stop-color="#000" stop-opacity="0.080"/><stop offset="0.2225" stop-color="#000" stop-opacity="0.140"/><stop offset="0.6101" stop-color="#000" stop-opacity="0.160"/><stop offset="0.6876" stop-color="#000" stop-opacity="0.100"/><stop offset="0.8233" stop-color="#000" stop-opacity="0.070"/><stop offset="0.9395" stop-color="#000" stop-opacity="0.030"/><stop offset="1.0016" stop-color="#000" stop-opacity="0.000"/></linearGradient>
<rect x="556.5" y="632.6" width="7.0" height="258.0" fill="url(#s2_4)" filter="url(#blurH)"/>
<linearGradient id="s2_5" x1="0" y1="0" x2="0" y2="1"><stop offset="-0.0023" stop-color="#000" stop-opacity="0.080"/><stop offset="0.1062" stop-color="#000" stop-opacity="0.060"/><stop offset="0.1450" stop-color="#000" stop-opacity="0.000"/><stop offset="1.0016" stop-color="#000" stop-opacity="0.000"/></linearGradient>
<rect x="567.0" y="632.6" width="3.0" height="258.0" fill="url(#s2_5)" filter="url(#blurH)"/>
<linearGradient id="s2_6" x1="0" y1="0" x2="0" y2="1"><stop offset="-0.0023" stop-color="#000" stop-opacity="0.000"/><stop offset="0.1062" stop-color="#000" stop-opacity="0.050"/><stop offset="0.1837" stop-color="#000" stop-opacity="0.160"/><stop offset="0.2302" stop-color="#000" stop-opacity="0.240"/><stop offset="0.3426" stop-color="#000" stop-opacity="0.300"/><stop offset="0.4163" stop-color="#000" stop-opacity="0.200"/><stop offset="0.6101" stop-color="#000" stop-opacity="0.240"/><stop offset="0.6876" stop-color="#000" stop-opacity="0.100"/><stop offset="0.8039" stop-color="#000" stop-opacity="0.030"/><stop offset="1.0016" stop-color="#000" stop-opacity="0.000"/></linearGradient>
<rect x="591.5" y="632.6" width="6.0" height="258.0" fill="url(#s2_6)" filter="url(#blurH)"/>
<rect x="481.7" y="664.5" width="25.0" height="3.0" rx="1.5" fill="#000" opacity="0.096" filter="url(#bm)"/>
<rect x="515.7" y="664.5" width="22.0" height="3.0" rx="1.5" fill="#000" opacity="0.108" filter="url(#bm)"/>
<rect x="544.5" y="664.5" width="24.5" height="3.0" rx="1.5" fill="#000" opacity="0.144" filter="url(#bm)"/>
<rect x="575.8" y="664.5" width="22.0" height="3.0" rx="1.5" fill="#000" opacity="0.06" filter="url(#bm)"/>
<rect x="481.7" y="676.5" width="25.0" height="3.0" rx="1.5" fill="#000" opacity="0.048" filter="url(#bm)"/>
<rect x="515.7" y="676.5" width="22.0" height="3.0" rx="1.5" fill="#000" opacity="0.06" filter="url(#bm)"/>
<rect x="544.5" y="676.5" width="24.5" height="3.0" rx="1.5" fill="#000" opacity="0.084" filter="url(#bm)"/>
<rect x="575.8" y="676.5" width="22.0" height="3.0" rx="1.5" fill="#000" opacity="0.03" filter="url(#bm)"/>
<rect x="481.7" y="689.5" width="25.0" height="5.0" rx="2.0" fill="#000" opacity="0.16" filter="url(#bl)"/>
<rect x="515.7" y="689.5" width="22.0" height="5.0" rx="2.0" fill="#000" opacity="0.2" filter="url(#bl)"/>
<rect x="544.5" y="689.5" width="24.5" height="5.0" rx="2.0" fill="#000" opacity="0.24" filter="url(#bl)"/>
<rect x="575.8" y="689.5" width="22.0" height="5.0" rx="2.0" fill="#000" opacity="0.1" filter="url(#bl)"/>
<rect x="481.7" y="704.5" width="25.0" height="3.0" rx="1.5" fill="#000" opacity="0.072" filter="url(#bm)"/>
<rect x="515.7" y="704.5" width="22.0" height="3.0" rx="1.5" fill="#000" opacity="0.096" filter="url(#bm)"/>
<rect x="544.5" y="704.5" width="24.5" height="3.0" rx="1.5" fill="#000" opacity="0.12" filter="url(#bm)"/>
<rect x="575.8" y="704.5" width="22.0" height="3.0" rx="1.5" fill="#000" opacity="0.048" filter="url(#bm)"/>
<rect x="481.7" y="718.9" width="25.0" height="4.2" rx="2.0" fill="#000" opacity="0.62" filter="url(#bk)"/>
<rect x="515.7" y="719.4" width="22.0" height="4.2" rx="2.0" fill="#000" opacity="0.58" filter="url(#bk)"/>
<rect x="544.5" y="719.4" width="24.5" height="4.2" rx="2.0" fill="#000" opacity="0.66" filter="url(#bk)"/>
<rect x="575.8" y="720.9" width="22.0" height="4.2" rx="2.0" fill="#000" opacity="0.52" filter="url(#bk)"/>
<rect x="481.7" y="730.9" width="25.0" height="3.0" rx="1.5" fill="#000" opacity="0.072" filter="url(#bm)"/>
<rect x="515.7" y="730.9" width="22.0" height="3.0" rx="1.5" fill="#000" opacity="0.096" filter="url(#bm)"/>
<rect x="544.5" y="730.9" width="24.5" height="3.0" rx="1.5" fill="#000" opacity="0.132" filter="url(#bm)"/>
<rect x="575.8" y="730.9" width="22.0" height="3.0" rx="1.5" fill="#000" opacity="0.06" filter="url(#bm)"/>
<rect x="481.7" y="741.5" width="25.0" height="3.0" rx="1.5" fill="#000" opacity="0.084" filter="url(#bm)"/>
<rect x="515.7" y="741.5" width="22.0" height="3.0" rx="1.5" fill="#000" opacity="0.12" filter="url(#bm)"/>
<rect x="544.5" y="741.5" width="24.5" height="3.0" rx="1.5" fill="#000" opacity="0.156" filter="url(#bm)"/>
<rect x="575.8" y="741.5" width="22.0" height="3.0" rx="1.5" fill="#000" opacity="0.072" filter="url(#bm)"/>
<rect x="481.7" y="751.5" width="25.0" height="3.0" rx="1.5" fill="#000" opacity="0.072" filter="url(#bm)"/>
<rect x="515.7" y="751.5" width="22.0" height="3.0" rx="1.5" fill="#000" opacity="0.108" filter="url(#bm)"/>
<rect x="544.5" y="751.5" width="24.5" height="3.0" rx="1.5" fill="#000" opacity="0.144" filter="url(#bm)"/>
<rect x="575.8" y="751.5" width="22.0" height="3.0" rx="1.5" fill="#000" opacity="0.072" filter="url(#bm)"/>
<rect x="481.7" y="761.5" width="25.0" height="5.0" rx="2.0" fill="#000" opacity="0.4" filter="url(#bm)"/>
<rect x="515.7" y="761.5" width="22.0" height="5.0" rx="2.0" fill="#000" opacity="0.4" filter="url(#bm)"/>
<rect x="544.5" y="761.5" width="24.5" height="5.0" rx="2.0" fill="#000" opacity="0.48" filter="url(#bm)"/>
<rect x="575.8" y="761.5" width="22.0" height="5.0" rx="2.0" fill="#000" opacity="0.28" filter="url(#bm)"/>
<rect x="481.7" y="770.0" width="25.0" height="3.0" rx="1.5" fill="#000" opacity="0.06" filter="url(#bm)"/>
<rect x="515.7" y="770.0" width="22.0" height="3.0" rx="1.5" fill="#000" opacity="0.096" filter="url(#bm)"/>
<rect x="544.5" y="770.0" width="24.5" height="3.0" rx="1.5" fill="#000" opacity="0.144" filter="url(#bm)"/>
<rect x="575.8" y="770.0" width="22.0" height="3.0" rx="1.5" fill="#000" opacity="0.072" filter="url(#bm)"/>
<rect x="481.7" y="777.0" width="25.0" height="3.0" rx="1.5" fill="#000" opacity="0.084" filter="url(#bm)"/>
<rect x="515.7" y="777.0" width="22.0" height="3.0" rx="1.5" fill="#000" opacity="0.12" filter="url(#bm)"/>
<rect x="544.5" y="777.0" width="24.5" height="3.0" rx="1.5" fill="#000" opacity="0.168" filter="url(#bm)"/>
<rect x="575.8" y="777.0" width="22.0" height="3.0" rx="1.5" fill="#000" opacity="0.084" filter="url(#bm)"/>
<rect x="481.7" y="785.2" width="25.0" height="3.5" rx="1.8" fill="#000" opacity="0.096" filter="url(#bm)"/>
<rect x="515.7" y="785.2" width="22.0" height="3.5" rx="1.8" fill="#000" opacity="0.108" filter="url(#bm)"/>
<rect x="544.5" y="785.2" width="24.5" height="3.5" rx="1.8" fill="#000" opacity="0.156" filter="url(#bm)"/>
<rect x="575.8" y="785.2" width="22.0" height="3.5" rx="1.8" fill="#000" opacity="0.072" filter="url(#bm)"/>
<rect x="481.7" y="792.8" width="25.0" height="12.0" rx="2.0" fill="#000" opacity="0.86" filter="url(#bl)"/>
<rect x="515.7" y="791.8" width="22.0" height="12.0" rx="2.0" fill="#000" opacity="0.9" filter="url(#bl)"/>
<rect x="544.5" y="791.8" width="24.5" height="12.0" rx="2.0" fill="#000" opacity="0.97" filter="url(#bl)"/>
<rect x="575.8" y="792.3" width="22.0" height="12.0" rx="2.0" fill="#000" opacity="0.8" filter="url(#bl)"/>
<rect x="481.7" y="810.2" width="25.0" height="3.5" rx="1.8" fill="#000" opacity="0.048" filter="url(#bm)"/>
<rect x="515.7" y="810.2" width="22.0" height="3.5" rx="1.8" fill="#000" opacity="0.036" filter="url(#bm)"/>
<rect x="544.5" y="810.2" width="24.5" height="3.5" rx="1.8" fill="#000" opacity="0.096" filter="url(#bm)"/>
<rect x="575.8" y="810.2" width="22.0" height="3.5" rx="1.8" fill="#000" opacity="0.03" filter="url(#bm)"/>
<rect x="481.7" y="820.2" width="25.0" height="3.5" rx="1.8" fill="#000" opacity="0.03" filter="url(#bm)"/>
<rect x="515.7" y="820.2" width="22.0" height="3.5" rx="1.8" fill="#000" opacity="0.036" filter="url(#bm)"/>
<rect x="544.5" y="820.2" width="24.5" height="3.5" rx="1.8" fill="#000" opacity="0.084" filter="url(#bm)"/>
<rect x="575.8" y="820.2" width="22.0" height="3.5" rx="1.8" fill="#000" opacity="0.024" filter="url(#bm)"/>
<rect x="481.7" y="836.2" width="25.0" height="4.8" rx="2.0" fill="#000" opacity="0.78" filter="url(#bk)"/>
<rect x="515.7" y="834.4" width="22.0" height="4.8" rx="2.0" fill="#000" opacity="0.74" filter="url(#bk)"/>
<rect x="544.5" y="833.8" width="24.5" height="4.8" rx="2.0" fill="#000" opacity="0.96" filter="url(#bk)"/>
<rect x="575.8" y="834.4" width="22.0" height="4.8" rx="2.0" fill="#000" opacity="0.68" filter="url(#bk)"/>
</g></g></g>
<g filter="url(#bs)" fill="#000">
<rect x="491" y="883.7" width="8" height="1.8" opacity="0.15"/>
<rect x="535" y="879.8" width="7" height="2" opacity="0.2"/>
<rect x="552" y="879" width="6" height="2" opacity="0.18"/>
<rect x="561" y="879.5" width="6" height="2" opacity="0.15"/>
</g>
</svg>
</body></html>
